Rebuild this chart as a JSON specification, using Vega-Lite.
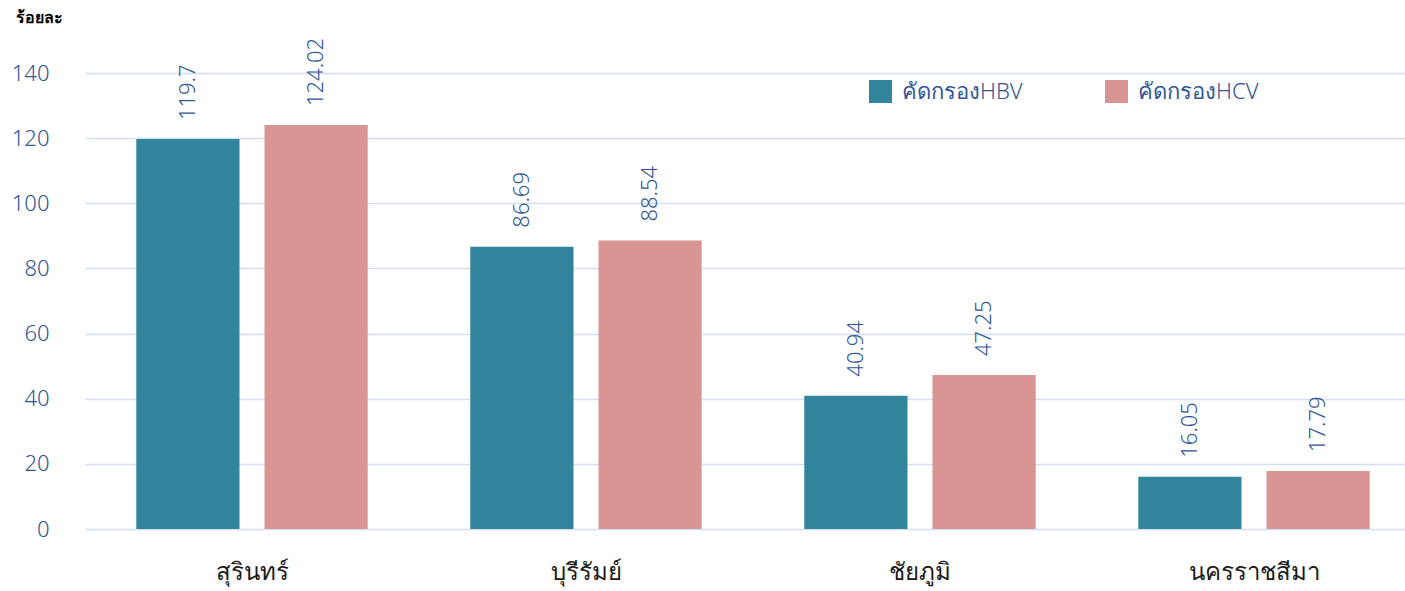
{
  "$schema": "https://vega.github.io/schema/vega-lite/v6.json",
  "autosize": {"type": "none"},
  "width": 1320,
  "height": 456,
  "padding": {"left": 85, "top": 73, "right": 0, "bottom": 62},
  "background": "white",
  "config": {
    "font": "Noto Sans",
    "view": {"stroke": null}
  },
  "data": {
    "values": [
      {"province": "สุรินทร์", "series": "คัดกรองHBV", "value": 119.7, "label": "119.7"},
      {"province": "สุรินทร์", "series": "คัดกรองHCV", "value": 124.02, "label": "124.02"},
      {"province": "บุรีรัมย์", "series": "คัดกรองHBV", "value": 86.69, "label": "86.69"},
      {"province": "บุรีรัมย์", "series": "คัดกรองHCV", "value": 88.54, "label": "88.54"},
      {"province": "ชัยภูมิ", "series": "คัดกรองHBV", "value": 40.94, "label": "40.94"},
      {"province": "ชัยภูมิ", "series": "คัดกรองHCV", "value": 47.25, "label": "47.25"},
      {"province": "นครราชสีมา", "series": "คัดกรองHBV", "value": 16.05, "label": "16.05"},
      {"province": "นครราชสีมา", "series": "คัดกรองHCV", "value": 17.79, "label": "17.79"}
    ]
  },
  "encoding": {
    "x": {
      "field": "province",
      "type": "nominal",
      "sort": null,
      "scale": {"paddingInner": 0, "paddingOuter": 0, "range": [0, 1336]},
      "axis": {
        "title": null,
        "labelAngle": 0,
        "labelFontSize": 24,
        "labelFontWeight": 300,
        "labelColor": "#1a1a1a",
        "labelPadding": 31,
        "ticks": false,
        "domain": false,
        "grid": false
      }
    },
    "xOffset": {
      "field": "series",
      "type": "nominal",
      "scale": {"paddingInner": 0.195, "paddingOuter": 0.4}
    },
    "y": {
      "field": "value",
      "type": "quantitative",
      "scale": {"domain": [0, 140], "nice": false},
      "axis": {
        "title": "ร้อยละ",
        "titleAngle": 0,
        "titleFontSize": 16,
        "titleFontWeight": "bold",
        "titleColor": "#000000",
        "titleAlign": "left",
        "titleBaseline": "middle",
        "titleX": -70,
        "titleY": -56,
        "values": [0, 20, 40, 60, 80, 100, 120, 140],
        "labelFontSize": 22,
        "labelFontWeight": 300,
        "labelColor": "#2F5597",
        "labelPadding": 36,
        "ticks": false,
        "domain": false,
        "grid": true,
        "gridColor": "#D3DFF0",
        "gridWidth": 1.5
      }
    }
  },
  "layer": [
    {
      "mark": {"type": "bar"},
      "encoding": {
        "color": {
          "field": "series",
          "type": "nominal",
          "scale": {"domain": ["คัดกรองHBV", "คัดกรองHCV"], "range": ["#31849B", "#D99594"]},
          "legend": {
            "title": null,
            "orient": "none",
            "direction": "horizontal",
            "legendX": 784,
            "legendY": 7,
            "symbolType": "square",
            "symbolSize": 529,
            "symbolStrokeWidth": 0,
            "symbolOpacity": 1,
            "labelFontSize": 22,
            "labelFontWeight": 300,
            "labelColor": "#2F5597",
            "labelOffset": 10,
            "columnPadding": 82
          }
        }
      }
    },
    {
      "mark": {"type": "text", "angle": -90, "align": "left", "baseline": "middle", "dx": 19, "fontSize": 22, "fontWeight": 300, "color": "#2F5597"},
      "encoding": {
        "text": {"field": "label", "type": "nominal"}
      }
    }
  ]
}
